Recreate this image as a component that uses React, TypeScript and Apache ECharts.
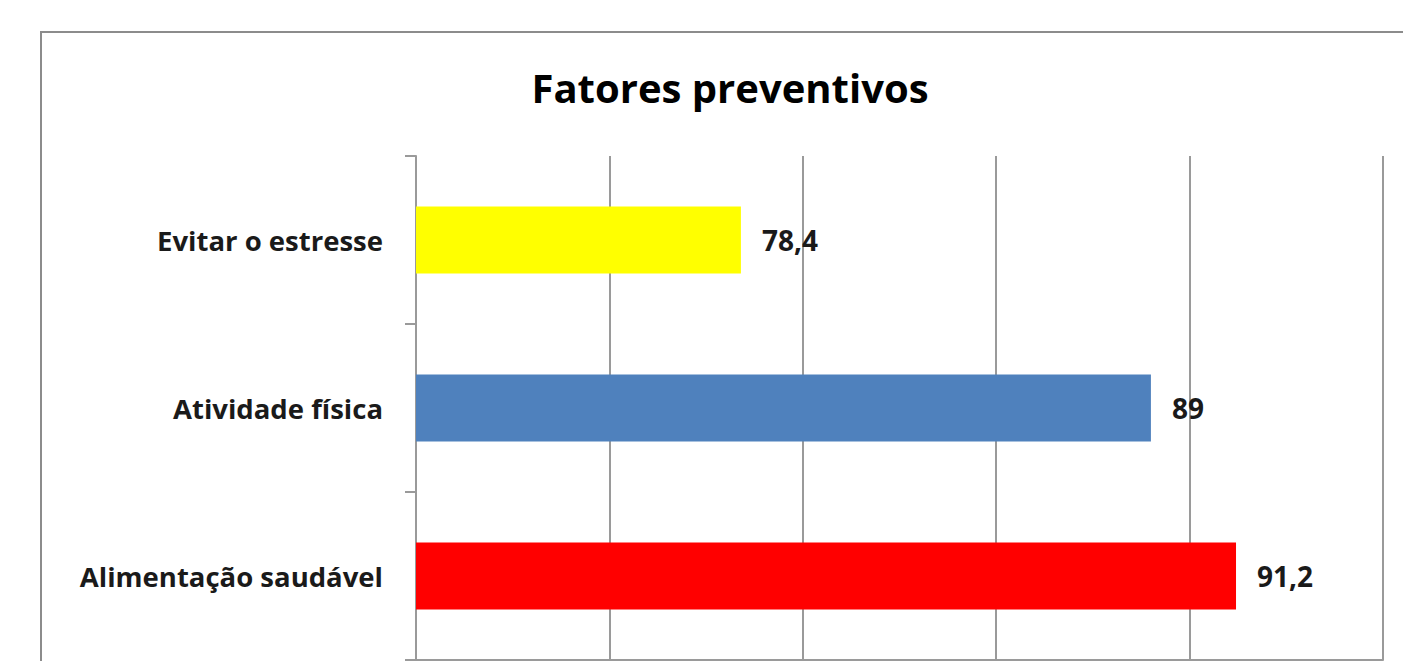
import React, { useEffect, useRef } from "react";
import * as echarts from "echarts";

const title = "Fatores preventivos";
const categories = ["Alimentação saudável", "Atividade física", "Evitar o estresse"];
const values = [91.2, 89, 78.4];
const barColors = ["#FF0000", "#4F81BD", "#FFFF00"];
const xMin = 70;
const xMax = 95;
const xStep = 5;

const CHART_W = 1430;
const CHART_H = 780;
const FONT = "'Open Sans', 'Liberation Sans', sans-serif";

export default function App() {
  const ref = useRef<HTMLDivElement>(null);
  useEffect(() => {
    if (!ref.current) return;
    const chart = echarts.init(ref.current, null, { renderer: "svg" });
    chart.setOption({
      animation: false,
      backgroundColor: "#ffffff",
      title: {
        text: title,
        left: 725,
        top: 82,
        textAlign: "center",
        textVerticalAlign: "middle",
        textStyle: { fontFamily: FONT, fontSize: 40, fontWeight: "bold", color: "#000000" },
      },
      graphic: [
        {
          type: "rect",
          shape: { x: 41, y: 32, width: 1372, height: 720 },
          style: { fill: "none", stroke: "#8c8c8c", lineWidth: 2 },
          silent: true,
        },
      ],
      grid: { left: 416, top: 156, right: CHART_W - 1383, bottom: CHART_H - 660, containLabel: false },
      xAxis: {
        type: "value",
        min: xMin,
        max: xMax,
        interval: xStep,
        axisLabel: { show: false },
        axisTick: { show: false },
        axisLine: { show: true, lineStyle: { color: "#9a9a9a", width: 2 } },
        splitLine: { show: true, lineStyle: { color: "#9a9a9a", width: 2 } },
      },
      yAxis: {
        type: "category",
        data: categories,
        axisLine: { show: true, lineStyle: { color: "#9a9a9a", width: 2 } },
        axisTick: { show: true, length: 11, lineStyle: { color: "#9a9a9a", width: 2 } },
        axisLabel: {
          margin: 33,
          fontFamily: FONT,
          fontSize: 27.5,
          fontWeight: "bold",
          color: "#1a1a1a",
        },
        splitLine: { show: false },
      },
      series: [
        {
          type: "bar",
          data: values.map((v, i) => ({ value: v, itemStyle: { color: barColors[i] } })),
          barCategoryGap: "60%",
          label: {
            show: true,
            position: "right",
            distance: 21,
            fontFamily: FONT,
            fontSize: 28,
            fontWeight: "bold",
            color: "#1a1a1a",
            formatter: (p: any) => String(p.value).replace(".", ","),
          },
        },
      ],
    });
    return () => chart.dispose();
  }, []);
  return (
    <div style={{ position: "fixed", left: 0, top: 0, width: 1403, height: 661, overflow: "hidden", background: "#fff" }}>
      <div ref={ref} style={{ width: CHART_W, height: CHART_H }} />
    </div>
  );
}
